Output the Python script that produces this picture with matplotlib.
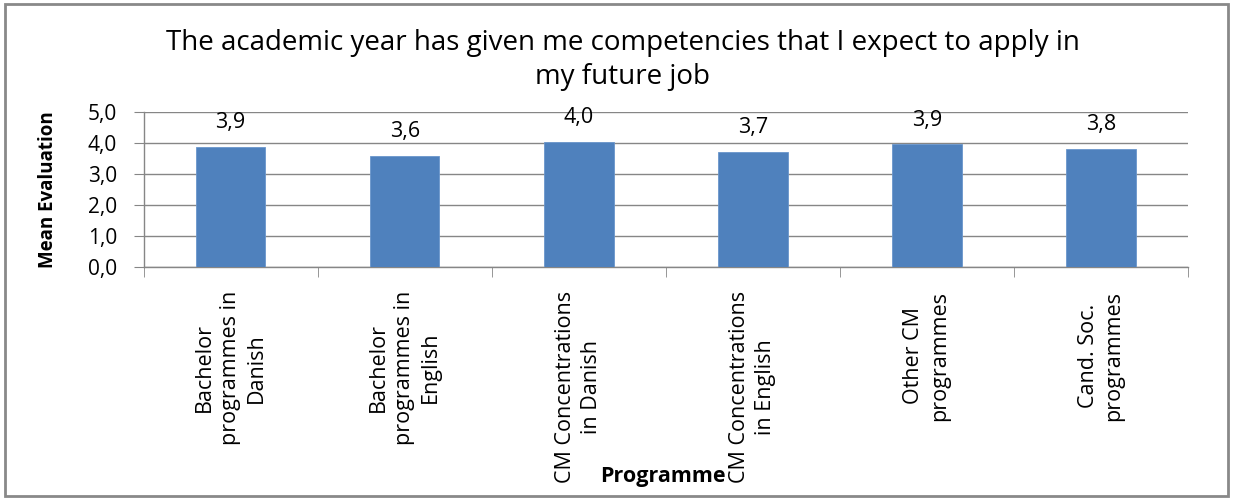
import matplotlib
matplotlib.use('Agg')
import numpy as np
import matplotlib.pyplot as plt
from matplotlib.patches import Rectangle

# values
programmes = ['Bachelor\nprogrammes in\nDanish',
              'Bachelor\nprogrammes in\nEnglish',
              'CM Concentrations\nin Danish',
              'CM Concentrations\nin English',
              'Other CM\nprogrammes',
              'Cand. Soc.\nprogrammes']
mean_eval = [3.86, 3.57, 4.01, 3.70, 3.94, 3.79]
yticks = [0, 1, 2, 3, 4, 5]

title = 'The academic year has given me competencies that I expect to apply in\nmy future job'

plt.rcParams['font.family'] = ['Open Sans', 'DejaVu Sans']

fig = plt.figure(figsize=(12.33, 4.98), dpi=100)
ax = fig.add_axes([0.1164, 0.4639, 0.8471, 0.3122])

grey = '#868686'
x = np.arange(len(programmes))
ax.bar(x, mean_eval, width=0.4, color='#4F81BD', edgecolor='#6a96cc', linewidth=0.6, zorder=3)

for xi, v in zip(x, mean_eval):
    ax.annotate(('%.1f' % v).replace('.', ','), (xi, v), xytext=(0, 10),
                textcoords='offset points', ha='center', va='bottom', fontsize=15.5)

ax.set_xlim(-0.5, len(programmes) - 0.5)
ax.set_ylim(0, 5)
ax.set_yticks(yticks)
ax.set_yticklabels([('%.1f' % t).replace('.', ',') for t in yticks], fontsize=15)
ax.yaxis.grid(True, color=grey, linewidth=1.0, zorder=0)

ax.set_xticks(x)
ax.set_xticklabels(programmes, rotation=90, fontsize=15.5, va='top', ha='center',
                   multialignment='center', linespacing=1.3)
ax.set_xticks(np.arange(len(programmes) + 1) - 0.5, minor=True)
ax.tick_params(axis='x', which='major', length=0, pad=17)
ax.tick_params(axis='x', which='minor', length=7, color=grey, direction='out')
ax.tick_params(axis='y', length=7, color=grey, direction='out', pad=12)

for s in ['top', 'right']:
    ax.spines[s].set_visible(False)
for s in ['left', 'bottom']:
    ax.spines[s].set_color(grey)
    ax.spines[s].set_linewidth(1.0)

ax.set_ylabel('Mean Evaluation', fontsize=13.5, fontweight='bold')
ax.yaxis.set_label_coords(-0.082, 0.5)

fig.text(0.505, 0.942, title, ha='center', va='top', fontsize=20, linespacing=1.3)
fig.text(0.538, 0.043, 'Programme', ha='center', va='center', fontsize=15.5, fontweight='bold')

fig.patches.append(Rectangle((0.004, 0.004), 0.992, 0.988, transform=fig.transFigure,
                             fill=False, edgecolor='#898989', linewidth=2.0))

fig.savefig('out.png', dpi=100)
